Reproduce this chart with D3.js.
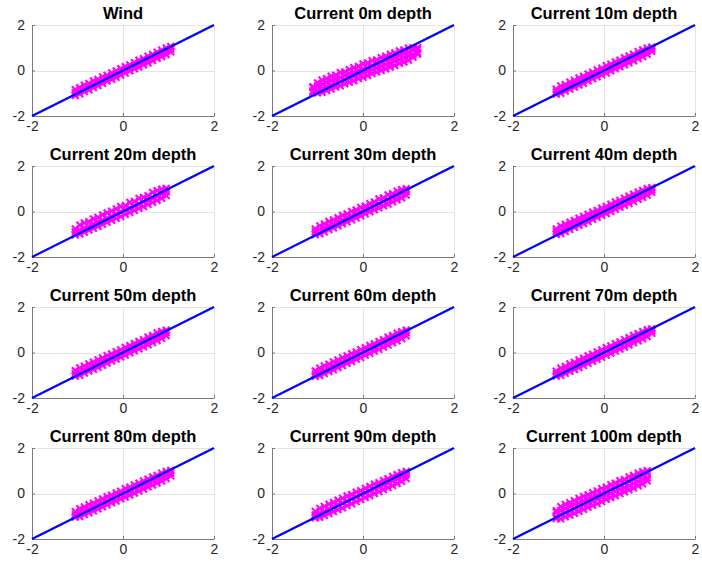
<!DOCTYPE html>
<html>
<head>
<meta charset="utf-8">
<script src="https://cdn.jsdelivr.net/npm/d3@7"></script>
<style>
  body { margin: 0; background: #fff; }
  svg { display: block; }
</style>
</head>
<body>
<script>
// Panel titles, in reading order
const titles = [
  "Wind", "Current 0m depth", "Current 10m depth",
  "Current 20m depth", "Current 30m depth", "Current 40m depth",
  "Current 50m depth", "Current 60m depth", "Current 70m depth",
  "Current 80m depth", "Current 90m depth", "Current 100m depth"
];
const tickValues = [-2, 0, 2];
const tickLabels = ["-2", "0", "2"];
const refLine = [-2, 2];   // 1:1 reference line endpoints

// Scatter samples: one x list per panel, and rows of y values sharing those x positions
const xWind = [-1.05,-0.95,-0.85,-0.75,-0.65,-0.55,-0.45,-0.35,-0.25,-0.15,-0.05,0.05,0.15,0.25,0.35,0.45,0.55,0.65,0.75,0.85,0.95,1.05];
const yWind = [
  [-0.84,-0.75,-0.64,-0.57,-0.46,-0.39,-0.28,-0.21,-0.10,-0.02,0.08,0.17,0.25,0.35,0.45,0.52,0.63,0.71,0.81,0.90,0.99,1.06],
  [-0.97,-0.89,-0.79,-0.71,-0.61,-0.52,-0.43,-0.34,-0.25,-0.16,-0.07,0.03,0.12,0.21,0.30,0.39,0.48,0.57,0.66,0.75,0.85,0.94],
  [-1.10,-1.03,-0.93,-0.85,-0.75,-0.66,-0.57,-0.47,-0.39,-0.30,-0.20,-0.12,-0.02,0.07,0.15,0.25,0.34,0.43,0.53,0.61,0.70,0.82]
];

const x0m = [-1.1,-1.0,-0.9,-0.8,-0.7,-0.6,-0.5,-0.4,-0.3,-0.2,-0.1,0.0,0.1,0.2,0.3,0.4,0.5,0.6,0.7,0.8,0.9,1.0,1.1,1.2];
const y0m = [
  [-0.71,-0.54,-0.42,-0.36,-0.25,-0.20,-0.09,-0.06,0.04,0.13,0.18,0.29,0.33,0.43,0.47,0.57,0.63,0.72,0.77,0.86,0.91,0.98,0.99,1.01],
  [-0.75,-0.68,-0.60,-0.52,-0.44,-0.38,-0.30,-0.22,-0.15,-0.08,0.00,0.07,0.15,0.22,0.29,0.37,0.44,0.51,0.59,0.66,0.74,0.81,0.88,0.93],
  [-0.90,-0.85,-0.78,-0.70,-0.63,-0.55,-0.48,-0.41,-0.33,-0.26,-0.18,-0.11,-0.04,0.04,0.11,0.19,0.26,0.33,0.41,0.48,0.56,0.63,0.70,0.80],
  [-0.96,-0.98,-0.96,-0.88,-0.82,-0.73,-0.67,-0.59,-0.52,-0.45,-0.36,-0.30,-0.22,-0.14,-0.07,0.00,0.07,0.15,0.22,0.31,0.37,0.46,0.58,0.72]
];

const x10m = [-1.05,-0.95,-0.85,-0.75,-0.65,-0.55,-0.45,-0.35,-0.25,-0.15,-0.05,0.05,0.15,0.25,0.35,0.45,0.55,0.65,0.75,0.85,0.95,1.05];
const y10m = [
  [-0.82,-0.68,-0.62,-0.51,-0.43,-0.33,-0.25,-0.15,-0.07,0.03,0.10,0.21,0.28,0.38,0.45,0.56,0.64,0.72,0.83,0.91,0.98,1.03],
  [-0.94,-0.85,-0.76,-0.67,-0.58,-0.49,-0.40,-0.31,-0.22,-0.13,-0.04,0.05,0.13,0.22,0.31,0.40,0.49,0.58,0.67,0.76,0.85,0.93],
  [-1.04,-1.00,-0.91,-0.82,-0.73,-0.64,-0.56,-0.46,-0.37,-0.28,-0.19,-0.11,-0.02,0.07,0.16,0.25,0.34,0.42,0.52,0.61,0.71,0.84]
];

const x20m = [-1.05,-0.95,-0.85,-0.75,-0.65,-0.55,-0.45,-0.35,-0.25,-0.15,-0.05,0.05,0.15,0.25,0.35,0.45,0.55,0.65,0.75,0.85,0.95];
const y20m = [
  [-0.76,-0.60,-0.50,-0.45,-0.33,-0.26,-0.15,-0.06,0.02,0.12,0.22,0.26,0.40,0.44,0.58,0.62,0.70,0.84,0.92,0.98,1.02],
  [-0.90,-0.82,-0.73,-0.64,-0.55,-0.46,-0.38,-0.29,-0.20,-0.11,-0.02,0.06,0.15,0.24,0.33,0.42,0.50,0.59,0.68,0.77,0.86],
  [-1.03,-0.99,-0.91,-0.82,-0.74,-0.65,-0.56,-0.47,-0.39,-0.30,-0.22,-0.13,-0.04,0.05,0.14,0.22,0.31,0.40,0.49,0.58,0.70]
];

const x30m = [-1.05,-0.95,-0.85,-0.75,-0.65,-0.55,-0.45,-0.35,-0.25,-0.15,-0.05,0.05,0.15,0.25,0.35,0.45,0.55,0.65,0.75,0.85,0.95];
const y30m = [
  [-0.76,-0.63,-0.54,-0.44,-0.37,-0.27,-0.17,-0.10,0.00,0.07,0.18,0.24,0.35,0.42,0.55,0.60,0.73,0.78,0.90,0.96,1.00],
  [-0.89,-0.81,-0.72,-0.63,-0.54,-0.45,-0.37,-0.28,-0.19,-0.10,-0.01,0.07,0.16,0.25,0.34,0.43,0.51,0.60,0.69,0.78,0.87],
  [-1.02,-0.98,-0.89,-0.80,-0.72,-0.63,-0.54,-0.45,-0.37,-0.28,-0.19,-0.10,-0.02,0.07,0.16,0.25,0.33,0.42,0.51,0.60,0.72]
];

const x40m = [-1.05,-0.95,-0.85,-0.75,-0.65,-0.55,-0.45,-0.35,-0.25,-0.15,-0.05,0.05,0.15,0.25,0.35,0.45,0.55,0.65,0.75,0.85,0.95,1.05];
const y40m = [
  [-0.76,-0.64,-0.56,-0.47,-0.39,-0.29,-0.21,-0.12,-0.03,0.05,0.15,0.23,0.32,0.42,0.49,0.59,0.67,0.76,0.85,0.93,1.01,1.05],
  [-0.89,-0.81,-0.72,-0.63,-0.54,-0.45,-0.37,-0.28,-0.19,-0.10,-0.01,0.07,0.16,0.25,0.34,0.43,0.51,0.60,0.69,0.78,0.87,0.95],
  [-1.00,-0.97,-0.88,-0.79,-0.70,-0.61,-0.53,-0.44,-0.35,-0.26,-0.17,-0.09,0.00,0.09,0.18,0.27,0.35,0.44,0.53,0.62,0.72,0.84]
];

const x50m = [-1.05,-0.95,-0.85,-0.75,-0.65,-0.55,-0.45,-0.35,-0.25,-0.15,-0.05,0.05,0.15,0.25,0.35,0.45,0.55,0.65,0.75,0.85,0.95];
const y50m = [
  [-0.80,-0.68,-0.60,-0.50,-0.42,-0.32,-0.24,-0.14,-0.06,0.04,0.12,0.22,0.30,0.40,0.49,0.57,0.67,0.75,0.86,0.93,0.98],
  [-0.93,-0.85,-0.76,-0.67,-0.58,-0.49,-0.40,-0.31,-0.22,-0.13,-0.04,0.06,0.15,0.24,0.33,0.42,0.51,0.60,0.69,0.78,0.87],
  [-1.04,-1.00,-0.91,-0.82,-0.74,-0.65,-0.56,-0.47,-0.38,-0.29,-0.20,-0.11,-0.02,0.07,0.16,0.25,0.34,0.43,0.52,0.62,0.74]
];

const x60m = [-1.05,-0.95,-0.85,-0.75,-0.65,-0.55,-0.45,-0.35,-0.25,-0.15,-0.05,0.05,0.15,0.25,0.35,0.45,0.55,0.65,0.75,0.85,0.95];
const y60m = [
  [-0.81,-0.69,-0.59,-0.51,-0.41,-0.33,-0.23,-0.15,-0.05,0.03,0.13,0.21,0.31,0.39,0.49,0.57,0.67,0.75,0.85,0.92,0.98],
  [-0.94,-0.86,-0.77,-0.68,-0.59,-0.50,-0.41,-0.32,-0.23,-0.14,-0.05,0.05,0.14,0.23,0.32,0.41,0.50,0.59,0.68,0.77,0.86],
  [-1.05,-1.02,-0.93,-0.84,-0.76,-0.66,-0.58,-0.48,-0.40,-0.30,-0.22,-0.12,-0.04,0.06,0.14,0.24,0.32,0.42,0.51,0.61,0.73]
];

const x70m = [-1.05,-0.95,-0.85,-0.75,-0.65,-0.55,-0.45,-0.35,-0.25,-0.15,-0.05,0.05,0.15,0.25,0.35,0.45,0.55,0.65,0.75,0.85,0.95,1.05];
const y70m = [
  [-0.82,-0.69,-0.61,-0.50,-0.43,-0.33,-0.25,-0.15,-0.07,0.03,0.11,0.21,0.29,0.39,0.47,0.57,0.65,0.75,0.83,0.93,1.00,1.04],
  [-0.94,-0.86,-0.77,-0.68,-0.59,-0.50,-0.41,-0.32,-0.23,-0.14,-0.05,0.05,0.14,0.23,0.32,0.41,0.50,0.59,0.68,0.77,0.86,0.95],
  [-1.04,-1.01,-0.92,-0.83,-0.75,-0.66,-0.57,-0.48,-0.39,-0.30,-0.21,-0.12,-0.03,0.06,0.15,0.24,0.33,0.42,0.51,0.60,0.70,0.84]
];

const x80m = [-1.05,-0.95,-0.85,-0.75,-0.65,-0.55,-0.45,-0.35,-0.25,-0.15,-0.05,0.05,0.15,0.25,0.35,0.45,0.55,0.65,0.75,0.85,0.95,1.05];
const y80m = [
  [-0.80,-0.67,-0.59,-0.49,-0.42,-0.32,-0.24,-0.14,-0.07,0.03,0.10,0.21,0.28,0.38,0.45,0.55,0.63,0.73,0.80,0.90,0.97,1.02],
  [-0.93,-0.85,-0.76,-0.67,-0.59,-0.50,-0.41,-0.33,-0.24,-0.15,-0.06,0.02,0.11,0.20,0.29,0.37,0.46,0.55,0.63,0.72,0.81,0.89],
  [-1.04,-1.02,-0.93,-0.85,-0.76,-0.68,-0.59,-0.50,-0.41,-0.33,-0.24,-0.16,-0.07,0.02,0.11,0.19,0.29,0.37,0.46,0.55,0.65,0.78]
];

const x90m = [-1.05,-0.95,-0.85,-0.75,-0.65,-0.55,-0.45,-0.35,-0.25,-0.15,-0.05,0.05,0.15,0.25,0.35,0.45,0.55,0.65,0.75,0.85,0.95];
const y90m = [
  [-0.79,-0.65,-0.57,-0.47,-0.39,-0.29,-0.21,-0.11,-0.04,0.06,0.13,0.23,0.31,0.41,0.48,0.58,0.65,0.75,0.83,0.92,0.97],
  [-0.94,-0.86,-0.77,-0.68,-0.59,-0.50,-0.42,-0.33,-0.24,-0.15,-0.06,0.02,0.11,0.20,0.29,0.38,0.46,0.55,0.64,0.73,0.82],
  [-1.07,-1.05,-0.97,-0.88,-0.80,-0.71,-0.63,-0.53,-0.45,-0.36,-0.27,-0.18,-0.09,0.00,0.08,0.17,0.26,0.35,0.44,0.53,0.66]
];

const x100m = [-1.05,-0.95,-0.85,-0.75,-0.65,-0.55,-0.45,-0.35,-0.25,-0.15,-0.05,0.05,0.15,0.25,0.35,0.45,0.55,0.65,0.75,0.85,0.95];
const y100m = [
  [-0.75,-0.58,-0.48,-0.40,-0.31,-0.22,-0.13,-0.06,0.04,0.12,0.21,0.28,0.39,0.45,0.56,0.62,0.73,0.80,0.89,0.96,1.00],
  [-0.83,-0.75,-0.66,-0.58,-0.49,-0.41,-0.32,-0.24,-0.15,-0.07,0.02,0.10,0.19,0.27,0.36,0.44,0.53,0.61,0.70,0.78,0.87],
  [-1.01,-0.93,-0.84,-0.76,-0.67,-0.59,-0.50,-0.42,-0.33,-0.25,-0.16,-0.08,0.01,0.09,0.18,0.26,0.35,0.43,0.52,0.60,0.69],
  [-1.10,-1.12,-1.03,-0.95,-0.87,-0.78,-0.70,-0.61,-0.52,-0.44,-0.36,-0.26,-0.18,-0.10,-0.01,0.07,0.16,0.24,0.34,0.42,0.56]
];

const panelX = [xWind, x0m, x10m, x20m, x30m, x40m, x50m, x60m, x70m, x80m, x90m, x100m];
const panelY = [yWind, y0m, y10m, y20m, y30m, y40m, y50m, y60m, y70m, y80m, y90m, y100m];

// Layout
const W = 702, H = 565;
const colLeft = [32, 272, 513];
const rowTop = [25, 166, 307, 448];
const plotW = 182, plotH = 91;

const svg = d3.select("body").append("svg")
  .attr("width", W).attr("height", H)
  .style("font-family", "'Liberation Sans', Arial, Helvetica, sans-serif");

const x = d3.scaleLinear().domain([-2, 2]).range([0, plotW]);
const y = d3.scaleLinear().domain([-2, 2]).range([plotH, 0]);

const markerR = 3.4;
const crossPath = `M${-markerR},${-markerR}L${markerR},${markerR}M${-markerR},${markerR}L${markerR},${-markerR}`;

titles.forEach((title, i) => {
  const col = i % 3, row = Math.floor(i / 3);
  const g = svg.append("g")
    .attr("transform", `translate(${colLeft[col]},${rowTop[row]})`);

  // grid
  const grid = g.append("g").attr("stroke", "#e3e3e3").attr("stroke-width", 1);
  tickValues.filter(v => v !== -2).forEach(v => {
    grid.append("line")
      .attr("x1", Math.round(x(v)) + 0.5).attr("x2", Math.round(x(v)) + 0.5)
      .attr("y1", 0).attr("y2", plotH);
    grid.append("line")
      .attr("x1", 0).attr("x2", plotW)
      .attr("y1", Math.round(y(v)) + 0.5).attr("y2", Math.round(y(v)) + 0.5);
  });

  // axes
  const xAxis = d3.axisBottom(x).tickValues(tickValues)
    .tickFormat((d, k) => tickLabels[k]).tickSizeInner(-3).tickSizeOuter(0).tickPadding(5);
  const yAxis = d3.axisLeft(y).tickValues(tickValues)
    .tickFormat((d, k) => tickLabels[k]).tickSizeInner(-3).tickSizeOuter(0).tickPadding(7);

  [g.append("g").attr("transform", `translate(0,${plotH})`).call(xAxis),
   g.append("g").call(yAxis)].forEach(ax => {
    ax.select(".domain").attr("stroke", "#7a7a7a");
    ax.selectAll(".tick line").attr("stroke", "#7a7a7a");
    ax.selectAll(".tick text").attr("fill", "#262626")
      .style("font-size", "14px").style("font-family", "'Liberation Sans', Arial, sans-serif");
  });

  // scatter
  const xs = panelX[i];
  const pts = [];
  panelY[i].forEach(ys => ys.forEach((v, k) => pts.push([xs[k], v])));
  g.append("g")
    .attr("fill", "none").attr("stroke", "#ff00ff").attr("stroke-width", 2.1)
    .selectAll("path").data(pts).join("path")
    .attr("transform", d => `translate(${x(d[0])},${y(d[1])})`)
    .attr("d", crossPath);

  // 1:1 line
  g.append("line")
    .attr("x1", x(refLine[0])).attr("y1", y(refLine[0]))
    .attr("x2", x(refLine[1])).attr("y2", y(refLine[1]))
    .attr("stroke", "#0000ff").attr("stroke-width", 2.2);

  // title
  g.append("text")
    .attr("x", plotW / 2).attr("y", -6)
    .attr("text-anchor", "middle")
    .attr("fill", "#000")
    .style("font-weight", "bold").style("font-size", "16.5px")
    .text(title);
});
</script>
</body>
</html>
